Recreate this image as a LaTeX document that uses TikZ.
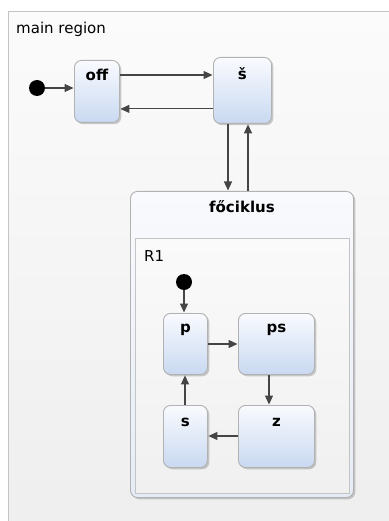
\documentclass[tikz,border=0pt]{standalone}
\usepackage{fontspec}
\setmainfont{DejaVu Sans}
\usetikzlibrary{arrows.meta,shadows,calc}
\definecolor{nodetop}{HTML}{F9FAFE}
\definecolor{nodebot}{HTML}{C9D9F1}
\definecolor{nodeborder}{HTML}{B2B2B2}
\definecolor{arrowc}{HTML}{454545}
\definecolor{regtop}{HTML}{FBFBFB}
\definecolor{regbot}{HTML}{EEEEEE}
\definecolor{regborder}{HTML}{C4C4C4}
\definecolor{comptop}{HTML}{F9FAFD}
\definecolor{compbot}{HTML}{E6ECF6}
\definecolor{r1top}{HTML}{FAFAFA}
\definecolor{r1bot}{HTML}{F0F0F0}
\tikzset{
  stbox/.style={draw=nodeborder, line width=0.9pt, rounded corners=7pt,
    top color=nodetop, bottom color=nodebot, inner sep=0pt, anchor=north west,
    drop shadow={shadow xshift=1.8pt, shadow yshift=-1.8pt, opacity=0.4}},
  compbox/.style={draw=nodeborder, line width=0.9pt, rounded corners=7pt,
    top color=comptop, bottom color=compbot, inner sep=0pt, anchor=north west,
    drop shadow={shadow xshift=1.8pt, shadow yshift=-1.8pt, opacity=0.4}},
  regbox/.style={draw=regborder, line width=1.2pt, top color=regtop, bottom color=regbot,
    inner sep=0pt, anchor=north west},
  r1box/.style={draw=regborder, line width=0.9pt, top color=r1top, bottom color=r1bot,
    inner sep=0pt, anchor=north west},
  title/.style={font=\bfseries\fontsize{15}{17}\selectfont, inner sep=0pt, anchor=center},
  reglabel/.style={font=\fontsize{15}{17}\selectfont, inner sep=0pt, anchor=west},
  initdot/.style={circle, fill=black, minimum size=16pt, inner sep=0pt},
  tr/.style={draw=arrowc, line width=1.1pt, -{Triangle[length=9pt,width=8pt]}, shorten >=0.5pt}
}
\begin{document}
\begin{tikzpicture}[x=1pt,y=1pt]
\useasboundingbox (0,0) rectangle (388,-521);
\fill[white] (0,0) rectangle (388,-521);
% main region
\node[regbox, minimum width=400pt, minimum height=530pt] (main) at (7.5,-11) {};
\node[reglabel] (mainlbl) at (16,-29) {main region};
% top states
\node[initdot] (i0) at (37,-88) {};
\node[stbox, minimum width=45pt, minimum height=62pt] (off) at (74,-60) {};
\node[title] (offt) at ($(off.north)+(0,-15)$) {off};
\node[stbox, minimum width=58pt, minimum height=66pt] (sh) at (213,-57) {};
\node[title] (sht) at ($(sh.north)+(0,-17)$) {š};
% composite
\node[compbox, minimum width=223pt, minimum height=306pt] (fo) at (130,-191) {};
\node[title] (fot) at ($(fo.north)+(0,-16)$) {főciklus};
\node[r1box, minimum width=214pt, minimum height=255pt] (r1) at (135,-238) {};
\node[reglabel] (r1lbl) at (144,-256) {R1};
% inner states
\node[initdot] (i1) at (184,-282) {};
\node[stbox, minimum width=44pt, minimum height=61pt] (p) at (163,-313) {};
\node[title] (pt) at ($(p.north)+(0,-17)$) {p};
\node[stbox, minimum width=76pt, minimum height=61pt] (ps) at (238,-313) {};
\node[title] (pst) at ($(ps.north)+(0,-17)$) {ps};
\node[stbox, minimum width=76pt, minimum height=62pt] (z) at (238,-405) {};
\node[title] (zt) at ($(z.north)+(0,-17)$) {z};
\node[stbox, minimum width=44pt, minimum height=62pt] (s) at (163,-405) {};
\node[title] (st) at ($(s.north)+(0,-17)$) {s};
% transitions
\draw[tr] (i0) -- (off.west |- i0);
\draw[tr] ($(off.north east)+(0,-15)$) -- ($(sh.north west)+(0,-18)$);
\draw[tr] ($(sh.south west)+(0,15)$) -- ($(off.south east)+(0,14)$);
\draw[tr] ($(sh.south west)+(15,0)$) -- ($(fo.north west)+(98,0)$);
\draw[tr] ($(fo.north west)+(118,0)$) -- ($(sh.south west)+(35,0)$);
\draw[tr] (i1) -- (i1 |- p.north);
\draw[tr] ($(p.north east)+(0,-31)$) -- ($(ps.north west)+(0,-31)$);
\draw[tr] ($(ps.south west)+(31,0)$) -- ($(z.north west)+(31,0)$);
\draw[tr] ($(z.north west)+(0,-31)$) -- ($(s.north east)+(0,-31)$);
\draw[tr] ($(s.north west)+(22,0)$) -- ($(p.south west)+(22,0)$);
\end{tikzpicture}
\end{document}
